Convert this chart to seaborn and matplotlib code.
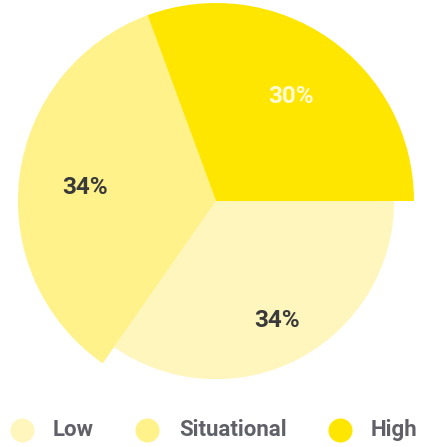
import matplotlib
matplotlib.use("Agg")
import matplotlib.pyplot as plt
import seaborn as sns

sns.set_theme(style="white")
plt.rcParams["font.family"] = ["Roboto", "DejaVu Sans"]

categories = ["Low", "Situational", "High"]
shares = [34, 34, 30]
colors = ["#FFF6BE", "#FFF28A", "#FFE600"]
label_colors = ["#3a3a3a", "#3a3a3a", "#FFFBD6"]
wedge_scale = [0.9, 1.0, 1.0]

W, H = 426, 447
fig = plt.figure(figsize=(W / 100, H / 100), dpi=100)
ax = fig.add_axes([0, 0, 1, 1])

cx, cy, R = 216, H - 201, 198
wedges, texts, autotexts = ax.pie(
    shares,
    colors=colors,
    startangle=0,
    counterclock=False,
    radius=R,
    center=(cx, cy),
    autopct="%d%%",
    pctdistance=0.665,
    frame=True,
    wedgeprops=dict(linewidth=0),
    textprops=dict(fontsize=17.5, fontweight="semibold"),
)
ax.set_xlim(0, W)
ax.set_ylim(0, H)
ax.set_aspect("equal")
ax.axis("off")
for w, s in zip(wedges, wedge_scale):
    w.set_radius(R * s)
for t, c in zip(autotexts, label_colors):
    t.set_color(c)
    x, y = t.get_position()
    t.set_position((x, y - 3))

# legend row beneath the pie
marker_x = [22, 147, 340]
text_x = [53, 179, 371]
ly = H - 430
for name, col, mx, tx in zip(categories, colors, marker_x, text_x):
    ax.scatter([mx], [ly], s=300, color=col, linewidths=0, clip_on=False)
    ax.text(tx, ly, name, fontsize=16, fontweight="bold", color="#606068",
            va="center", ha="left")

fig.savefig("out.png", dpi=100)
